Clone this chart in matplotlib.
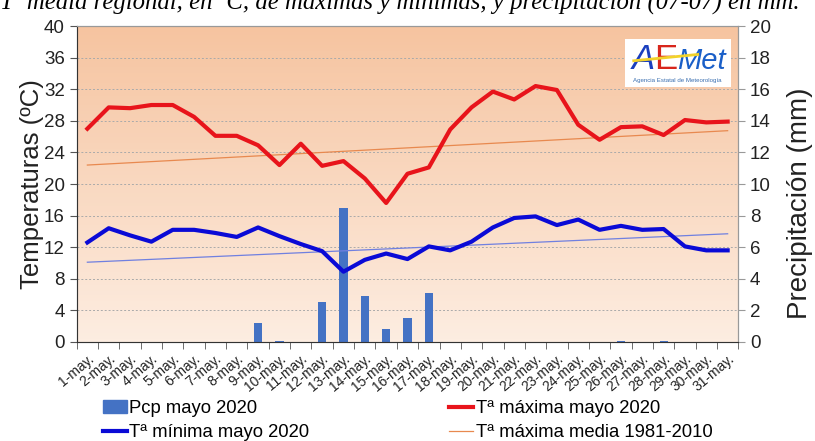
import numpy as np
import matplotlib
matplotlib.use("Agg")
import matplotlib.pyplot as plt
from matplotlib.colors import LinearSegmentedColormap

plt.rcParams['font.family'] = ['Liberation Sans', 'DejaVu Sans']

dias = [f"{d}-may." for d in range(1, 32)]
tmax = [27.0, 29.7, 29.6, 30.0, 30.0, 28.5, 26.1, 26.1, 24.9, 22.4, 25.1,
        22.3, 22.9, 20.7, 17.6, 21.3, 22.1, 26.9, 29.7, 31.7, 30.7, 32.4,
        31.9, 27.5, 25.6, 27.2, 27.3, 26.2, 28.1, 27.8, 27.9]
tmin = [12.6, 14.4, 13.5, 12.7, 14.2, 14.2, 13.8, 13.3, 14.5, 13.4, 12.4,
        11.5, 8.9, 10.4, 11.2, 10.5, 12.1, 11.6, 12.7, 14.5, 15.7, 15.9,
        14.8, 15.5, 14.2, 14.7, 14.2, 14.3, 12.1, 11.6, 11.6]
pcp = [0, 0, 0, 0, 0, 0, 0, 0, 1.2, 0.05, 0, 2.55, 8.5, 2.9, 0.8, 1.55,
       3.1, 0, 0, 0, 0, 0, 0, 0, 0, 0.05, 0, 0.05, 0, 0, 0]
# medias 1981-2010 (primer y ultimo dia)
tmax_media = [22.4, 26.75]
tmin_media = [10.1, 13.7]

titulo = "Tª media regional, en ºC, de máximas y mínimas, y precipitación (07-07) en mm."

fig = plt.figure(figsize=(8.15, 4.41), dpi=100)
ax = fig.add_axes([0.0941, 0.2245, 0.8118, 0.7165])
x = np.arange(len(dias))

ax2 = ax.twinx()
ax.set_zorder(2)
ax2.set_zorder(1)
ax.patch.set_visible(False)

# fondo degradado (en el eje de abajo)
cmap = LinearSegmentedColormap.from_list("fondo", ["#FDEDE1", "#F6C4A0"])
ax2.imshow(np.linspace(0, 1, 100).reshape(-1, 1), cmap=cmap, aspect='auto',
           extent=[-0.5, 30.5, 0, 20], origin='lower', zorder=0)

ax2.set_xticks(np.arange(-0.5, 31, 1), minor=True)
ax2.grid(axis='x', which='minor', color='#BBBBBB', lw=0.7, zorder=1)
ax2.grid(axis='y', which='major', color='#AAAAAA', lw=0.7, ls=(0, (2, 2)), zorder=1)

# precipitacion
ax2.bar(x, pcp, width=0.38, color='#4472C4', zorder=3)
ax2.set_xlim(-0.5, 30.5)
ax2.set_ylim(0, 20)
ax2.set_yticks(range(0, 21, 2))
ax2.tick_params(axis='y', labelsize=13.5, colors='#999999', labelcolor='#222222', length=5)
ax2.set_ylabel("Precipitación (mm)", fontsize=20, color='#222222')
ax2.yaxis.set_label_coords(1.074, 0.44)

# temperaturas
ax.plot(x, tmax, color='#E8141B', lw=3, zorder=5, solid_joinstyle='round')
ax.plot(x, tmin, color='#0A0AD6', lw=3, zorder=5, solid_joinstyle='round')
ax.plot([x[0], x[-1]], tmax_media, color='#E8894F', lw=0.9, zorder=4)
ax.plot([x[0], x[-1]], tmin_media, color='#7080E0', lw=0.9, zorder=4)

ax.set_xlim(-0.5, 30.5)
ax.set_ylim(0, 40)
ax.set_yticks(range(0, 41, 4))
ax.tick_params(axis='y', labelsize=13.5, labelcolor='#222222', colors='#555555', length=5)
ax.set_ylabel("Temperaturas (ºC)", fontsize=18.5, color='#222222', labelpad=0)

ax.set_xticks(x)
ax.set_xticklabels(dias, rotation=40, ha='right', rotation_mode='anchor',
                   fontsize=10, color='#222222')
ax.tick_params(axis='x', which='major', length=0, pad=7)
ax.set_xticks(np.arange(-0.5, 31, 1), minor=True)
ax.tick_params(axis='x', which='minor', length=5, colors='#555555')

for a in (ax, ax2):
    for s in a.spines.values():
        s.set_color('#999999')
ax.spines['left'].set_color('#333333')
ax.spines['bottom'].set_color('#333333')

# logo
ax.add_patch(plt.Rectangle((25.2, 32.3), 4.95, 6.1, facecolor='white',
                           edgecolor='none', zorder=6))
ax.text(25.5, 34.6, "A", color='#1A3FBF', fontsize=25, style='italic', zorder=7)
ax.text(26.55, 34.6, "E", color='#D8261C', fontsize=25, zorder=7)
ax.text(27.65, 34.6, "Met", color='#1A5FC8', fontsize=21, style='italic', zorder=7)
ax.plot([25.6, 28.6], [35.6, 36.4], color='#F2D22A', lw=2, zorder=7)
ax.text(27.65, 32.9, "Agencia Estatal de Meteorología", color='#3A6FB0',
        fontsize=4.4, ha='center', zorder=7)

# titulo (recortado en la parte superior)
fig.text(0.0, 1 - 10 / 441, titulo, fontsize=17.8, style='italic',
         family=['Liberation Serif', 'DejaVu Serif'], va='baseline', ha='left')

# leyenda
h_pcp = plt.Rectangle((0, 0), 1, 1, color='#4472C4')
h_min = plt.Line2D([], [], color='#0A0AD6', lw=3)
h_max = plt.Line2D([], [], color='#E8141B', lw=3)
h_med = plt.Line2D([], [], color='#E8894F', lw=0.9)
fig.legend([h_pcp, h_min, h_max, h_med],
           ["Pcp mayo 2020", "Tª mínima mayo 2020", "Tª máxima mayo 2020",
            "Tª máxima media 1981-2010"],
           ncol=2, loc='upper left', bbox_to_anchor=(0.126, 0.092),
           frameon=False, fontsize=13.3, handlelength=1.3, handletextpad=0.15,
           columnspacing=7.55, labelspacing=0.38, borderpad=0, borderaxespad=0)

fig.savefig("out.png", dpi=100)
